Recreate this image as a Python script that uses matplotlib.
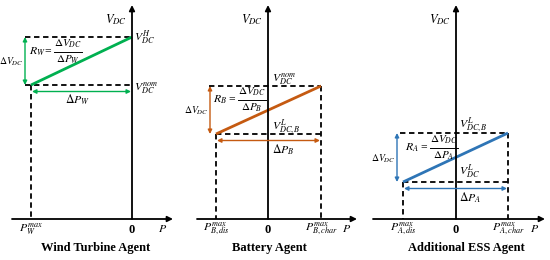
import matplotlib.pyplot as plt

plt.rcParams['font.family'] = ['Liberation Serif', 'DejaVu Serif']
plt.rcParams['mathtext.fontset'] = 'stix'

# droop characteristics of the three agents (drawing units, origin at P=0, V=0)
titles = ['Wind Turbine Agent', 'Battery Agent', 'Additional ESS Agent']
colors = ['#00B050', '#C55A11', '#2E75B6']
p_low = [-1.01, -0.52, -0.53]
p_high = [0.0, 0.53, 0.52]
v_low = [1.34, 0.85, 0.37]
v_high = [1.82, 1.33, 0.86]
r_names = ['W', 'B', 'A']
p_min_labels = [r'$P_{W}^{max}$', r'$P_{B,dis}^{max}$', r'$P_{A,dis}^{max}$']
p_max_labels = [None, r'$P_{B,char}^{max}$', r'$P_{A,char}^{max}$']
v_high_labels = [r'$V_{DC}^{H}$', r'$V_{DC}^{nom}$', r'$V_{DC,B}^{L}$']
v_low_labels = [r'$V_{DC}^{nom}$', r'$V_{DC,B}^{L}$', r'$V_{DC}^{L}$']

# layout
origins = [1.32, 2.68, 4.56]
axis_left = [-1.20, -0.71, -0.83]
axis_right = [0.41, 0.89, 0.89]
axis_top = 2.14
dash_left = [-1.07, -0.59, -0.56]
dash_low_left = [-1.07, None, None]
title_x = [-0.36, 0.01, 0.10]
frac_dx = [-0.02, -0.03, 0.02]
frac_dy = [0.15, 0.14, 0.15]

fig = plt.figure(figsize=(5.5, 2.6), dpi=100)
ax = fig.add_axes([0, 0, 1, 1])
ax.set_xlim(0, 5.5)
ax.set_ylim(-0.41, 2.19)
ax.axis('off')

dash = dict(color='black', lw=1.3, linestyle=(0, (3, 2)))
fs = 8.5


def droop_formula(x0, yc, name):
    # R_x = dV_DC / dP_x, written out by hand so the parts stay full size
    ax.text(x0, yc, r'$R_{%s}$' % name, ha='left', va='center', fontsize=fs)
    ax.text(x0 + 0.19, yc + 0.01, '=', ha='center', va='center', fontsize=fs)
    xc = x0 + 0.39
    ax.text(xc, yc + 0.085, r'$\Delta V_{DC}$', ha='center', va='center', fontsize=8)
    ax.plot([xc - 0.14, xc + 0.14], [yc, yc], color='black', lw=0.7)
    ax.text(xc, yc - 0.08, r'$\Delta P_{%s}$' % name, ha='center', va='center', fontsize=8)


for i in range(3):
    ox = origins[i]
    c = colors[i]
    pl, ph, vl, vh = p_low[i], p_high[i], v_low[i], v_high[i]

    # axes with arrow heads
    ax.annotate('', xy=(ox + axis_right[i], 0), xytext=(ox + axis_left[i], 0),
                arrowprops=dict(arrowstyle='-|>', color='black', lw=1.3,
                                mutation_scale=8, shrinkA=0, shrinkB=0))
    ax.annotate('', xy=(ox, axis_top), xytext=(ox, 0),
                arrowprops=dict(arrowstyle='-|>', color='black', lw=1.3,
                                mutation_scale=8, shrinkA=0, shrinkB=0))

    # dashed limits
    ax.plot([ox + dash_left[i], ox + ph], [vh, vh], **dash)
    lo_start = dash_low_left[i] if dash_low_left[i] is not None else pl
    ax.plot([ox + lo_start, ox + ph], [vl, vl], **dash)
    ax.plot([ox + pl, ox + pl], [vl, 0], **dash)
    if ph != 0:
        ax.plot([ox + ph, ox + ph], [vh, 0], **dash)

    # droop line
    ax.plot([ox + pl, ox + ph], [vl, vh], color=c, lw=2, solid_capstyle='butt')

    # delta arrows
    ax.annotate('', xy=(ox + pl - 0.06, vh), xytext=(ox + pl - 0.06, vl),
                arrowprops=dict(arrowstyle='<|-|>', color=c, lw=1,
                                mutation_scale=6, shrinkA=0, shrinkB=0))
    ax.annotate('', xy=(ox + ph - 0.01, vl - 0.065), xytext=(ox + pl + 0.01, vl - 0.065),
                arrowprops=dict(arrowstyle='<|-|>', color=c, lw=1,
                                mutation_scale=6, shrinkA=0, shrinkB=0))

    # axis labels
    ax.text(ox - 0.05, 1.99, r'$V_{DC}$', ha='right', va='center', fontsize=fs + 0.5)
    ax.text(ox + axis_right[i] - 0.1, -0.095, r'$P$', ha='center', va='center', fontsize=fs)
    ax.text(ox, -0.11, '0', ha='center', va='center', fontsize=fs + 0.5, fontweight='bold')
    ax.text(ox + pl, -0.10, p_min_labels[i], ha='center', va='center', fontsize=fs)
    if p_max_labels[i]:
        ax.text(ox + ph, -0.10, p_max_labels[i], ha='center', va='center', fontsize=fs)

    ax.text(ox + title_x[i], -0.29, titles[i],
            ha='center', va='center', fontsize=9, fontweight='bold')

    # delta V label
    ax.text(ox + pl - 0.07, (vl + vh) / 2 - 0.01, r'$\Delta V_{DC}$',
            ha='right', va='center', fontsize=7)

    droop_formula(ox + pl + frac_dx[i], vh - frac_dy[i], r_names[i])

# level labels beside the vertical axis
ax.text(origins[0] + 0.02, v_high[0] - 0.01, v_high_labels[0], ha='left', va='center', fontsize=fs)
ax.text(origins[0] + 0.02, v_low[0] - 0.03, v_low_labels[0], ha='left', va='center', fontsize=fs)
ax.text(origins[0] - 0.54, v_low[0] - 0.15, r'$\Delta P_{W}$', ha='center', va='center', fontsize=fs)

ax.text(origins[1] + 0.04, v_high[1] + 0.07, v_high_labels[1], ha='left', va='center', fontsize=fs)
ax.text(origins[1] + 0.04, v_low[1] + 0.07, v_low_labels[1], ha='left', va='center', fontsize=fs)
ax.text(origins[1] + 0.04, v_low[1] - 0.16, r'$\Delta P_{B}$', ha='left', va='center', fontsize=fs)

ax.text(origins[2] + 0.03, v_high[2] + 0.08, v_high_labels[2], ha='left', va='center', fontsize=fs)
ax.text(origins[2] + 0.03, v_low[2] + 0.1, v_low_labels[2], ha='left', va='center', fontsize=fs)
ax.text(origins[2] + 0.03, v_low[2] - 0.16, r'$\Delta P_{A}$', ha='left', va='center', fontsize=fs)

fig.savefig('out.png', dpi=100)
